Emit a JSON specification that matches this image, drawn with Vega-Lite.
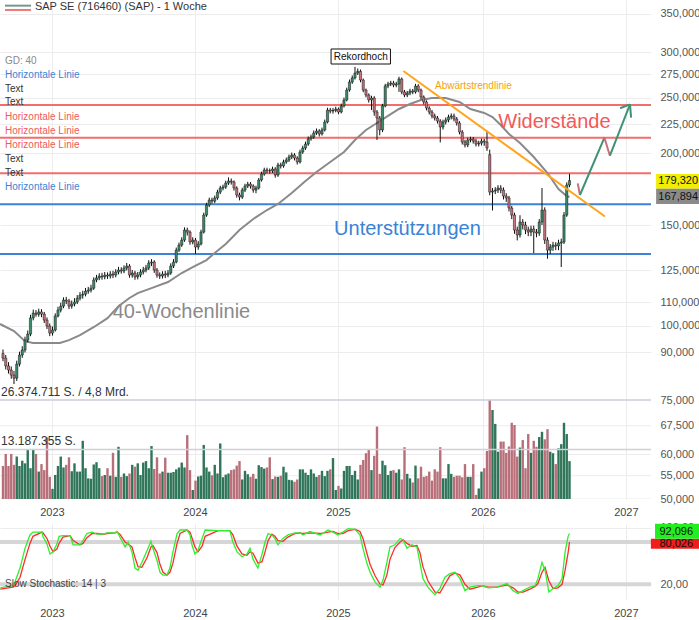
{
  "$schema": "https://vega.github.io/schema/vega-lite/v6.json",
  "padding": 0,
  "background": "white",
  "config": {
    "view": {"stroke": null},
    "font": "Liberation Sans",
    "axis": {"title": null, "domain": false, "ticks": false, "labelFont": "Liberation Sans", "labelFontSize": 11, "labelColor": "#555", "gridColor": "#ececec", "gridWidth": 1}
  },
  "datasets": {
    "px": [
      {"w":0,"o":89.5,"h":91.0,"l":86.8,"c":87.9,"v":8.8},
      {"w":1,"o":87.9,"h":89.0,"l":84.0,"c":85.2,"v":12.0},
      {"w":2,"o":85.2,"h":86.5,"l":82.6,"c":83.8,"v":8.8},
      {"w":3,"o":83.8,"h":85.0,"l":80.9,"c":82.1,"v":12.0},
      {"w":4,"o":82.1,"h":83.5,"l":79.2,"c":81.1,"v":9.1},
      {"w":5,"o":81.1,"h":87.0,"l":80.2,"c":85.8,"v":11.3},
      {"w":6,"o":85.8,"h":90.2,"l":85.0,"c":89.0,"v":8.8},
      {"w":7,"o":89.0,"h":92.2,"l":88.0,"c":90.8,"v":10.2},
      {"w":8,"o":90.8,"h":95.8,"l":89.9,"c":94.5,"v":9.5},
      {"w":9,"o":94.5,"h":98.2,"l":93.6,"c":96.8,"v":13.2},
      {"w":10,"o":96.8,"h":104.6,"l":96.0,"c":103.3,"v":8.2},
      {"w":11,"o":103.3,"h":106.8,"l":102.3,"c":105.3,"v":13.1},
      {"w":12,"o":105.3,"h":106.6,"l":103.8,"c":104.8,"v":12.0},
      {"w":13,"o":104.8,"h":107.2,"l":103.8,"c":105.8,"v":7.3},
      {"w":14,"o":105.8,"h":107.0,"l":103.6,"c":104.9,"v":9.3},
      {"w":15,"o":104.9,"h":105.8,"l":101.2,"c":102.4,"v":7.7},
      {"w":16,"o":102.4,"h":103.5,"l":98.8,"c":100.0,"v":16.4},
      {"w":17,"o":100.0,"h":101.0,"l":96.0,"c":97.2,"v":5.9},
      {"w":18,"o":97.2,"h":99.8,"l":96.2,"c":98.4,"v":2.7},
      {"w":19,"o":98.4,"h":105.2,"l":97.8,"c":104.1,"v":6.4},
      {"w":20,"o":104.1,"h":108.0,"l":103.5,"c":106.6,"v":8.8},
      {"w":21,"o":106.6,"h":109.8,"l":105.6,"c":108.3,"v":11.3},
      {"w":22,"o":108.3,"h":112.2,"l":107.4,"c":111.0,"v":8.4},
      {"w":23,"o":111.0,"h":112.4,"l":109.2,"c":110.5,"v":9.1},
      {"w":24,"o":110.5,"h":111.5,"l":107.0,"c":108.3,"v":11.1},
      {"w":25,"o":108.3,"h":110.8,"l":107.2,"c":109.2,"v":7.4},
      {"w":26,"o":109.2,"h":111.8,"l":108.2,"c":110.1,"v":9.5},
      {"w":27,"o":110.1,"h":113.2,"l":109.2,"c":111.8,"v":7.3},
      {"w":28,"o":111.8,"h":114.6,"l":110.8,"c":113.2,"v":7.3},
      {"w":29,"o":113.2,"h":115.2,"l":111.6,"c":113.6,"v":15.5},
      {"w":30,"o":113.6,"h":116.5,"l":112.6,"c":115.0,"v":8.2},
      {"w":31,"o":115.0,"h":117.0,"l":113.8,"c":115.5,"v":5.5},
      {"w":32,"o":115.5,"h":118.0,"l":114.4,"c":116.4,"v":5.4},
      {"w":33,"o":116.4,"h":121.6,"l":115.6,"c":120.3,"v":9.2},
      {"w":34,"o":120.3,"h":122.8,"l":119.2,"c":121.3,"v":9.8},
      {"w":35,"o":121.3,"h":123.6,"l":120.2,"c":122.2,"v":8.2},
      {"w":36,"o":122.2,"h":123.8,"l":120.4,"c":121.8,"v":6.1},
      {"w":37,"o":121.8,"h":124.2,"l":120.6,"c":122.7,"v":6.4},
      {"w":38,"o":122.7,"h":124.0,"l":120.8,"c":122.2,"v":8.2},
      {"w":39,"o":122.2,"h":124.6,"l":121.0,"c":123.2,"v":6.2},
      {"w":40,"o":123.2,"h":124.8,"l":121.2,"c":122.7,"v":12.3},
      {"w":41,"o":122.7,"h":125.6,"l":121.6,"c":124.2,"v":5.9},
      {"w":42,"o":124.2,"h":126.8,"l":123.0,"c":125.2,"v":13.9},
      {"w":43,"o":125.2,"h":126.6,"l":123.4,"c":124.7,"v":5.9},
      {"w":44,"o":124.7,"h":127.6,"l":123.6,"c":126.2,"v":6.8},
      {"w":45,"o":126.2,"h":128.8,"l":125.0,"c":127.2,"v":6.1},
      {"w":46,"o":127.2,"h":128.2,"l":121.4,"c":122.7,"v":6.8},
      {"w":47,"o":122.7,"h":125.2,"l":121.4,"c":123.7,"v":9.1},
      {"w":48,"o":123.7,"h":124.8,"l":120.4,"c":121.8,"v":8.6},
      {"w":49,"o":121.8,"h":124.2,"l":120.6,"c":122.7,"v":9.5},
      {"w":50,"o":122.7,"h":125.6,"l":121.6,"c":124.2,"v":6.4},
      {"w":51,"o":124.2,"h":126.8,"l":123.0,"c":125.2,"v":9.7},
      {"w":52,"o":125.2,"h":127.8,"l":124.0,"c":126.2,"v":10.1},
      {"w":53,"o":126.2,"h":130.2,"l":125.2,"c":128.8,"v":8.2},
      {"w":54,"o":128.8,"h":130.8,"l":127.2,"c":129.3,"v":14.1},
      {"w":55,"o":129.3,"h":130.2,"l":123.8,"c":125.2,"v":8.0},
      {"w":56,"o":125.2,"h":126.2,"l":121.4,"c":122.7,"v":11.1},
      {"w":57,"o":122.7,"h":124.0,"l":120.8,"c":122.2,"v":6.8},
      {"w":58,"o":122.2,"h":124.6,"l":121.0,"c":123.2,"v":7.3},
      {"w":59,"o":123.2,"h":124.8,"l":121.2,"c":122.7,"v":11.0},
      {"w":60,"o":122.7,"h":125.2,"l":121.6,"c":123.7,"v":7.0},
      {"w":61,"o":123.7,"h":128.6,"l":122.8,"c":127.2,"v":7.0},
      {"w":62,"o":127.2,"h":130.8,"l":126.2,"c":129.3,"v":7.2},
      {"w":63,"o":129.3,"h":137.0,"l":128.6,"c":135.6,"v":7.9},
      {"w":64,"o":135.6,"h":139.8,"l":134.6,"c":138.4,"v":8.4},
      {"w":65,"o":138.4,"h":142.8,"l":137.4,"c":141.2,"v":9.7},
      {"w":66,"o":141.2,"h":148.6,"l":140.2,"c":147.0,"v":8.4},
      {"w":67,"o":147.0,"h":148.4,"l":143.8,"c":145.8,"v":17.0},
      {"w":68,"o":145.8,"h":146.8,"l":138.6,"c":140.1,"v":7.7},
      {"w":69,"o":140.1,"h":142.8,"l":138.8,"c":141.2,"v":2.4},
      {"w":70,"o":141.2,"h":142.4,"l":133.6,"c":137.3,"v":4.9},
      {"w":71,"o":137.3,"h":140.6,"l":135.8,"c":139.0,"v":6.0},
      {"w":72,"o":139.0,"h":147.2,"l":138.2,"c":145.8,"v":6.2},
      {"w":73,"o":145.8,"h":157.6,"l":145.0,"c":156.1,"v":14.4},
      {"w":74,"o":156.1,"h":164.0,"l":155.0,"c":162.5,"v":8.4},
      {"w":75,"o":162.5,"h":167.4,"l":161.2,"c":165.8,"v":7.3},
      {"w":76,"o":165.8,"h":167.4,"l":163.4,"c":165.1,"v":6.3},
      {"w":77,"o":165.1,"h":168.8,"l":163.8,"c":167.2,"v":9.1},
      {"w":78,"o":167.2,"h":172.8,"l":166.0,"c":171.2,"v":6.8},
      {"w":79,"o":171.2,"h":175.6,"l":169.8,"c":174.0,"v":14.8},
      {"w":80,"o":174.0,"h":176.4,"l":172.4,"c":174.7,"v":5.8},
      {"w":81,"o":174.7,"h":179.2,"l":173.4,"c":177.5,"v":6.5},
      {"w":82,"o":177.5,"h":181.6,"l":176.2,"c":179.0,"v":6.8},
      {"w":83,"o":179.0,"h":180.8,"l":176.4,"c":178.3,"v":7.7},
      {"w":84,"o":178.3,"h":179.4,"l":172.2,"c":174.0,"v":7.9},
      {"w":85,"o":174.0,"h":175.2,"l":167.4,"c":169.2,"v":8.9},
      {"w":86,"o":169.2,"h":170.8,"l":165.6,"c":167.8,"v":10.1},
      {"w":87,"o":167.8,"h":174.2,"l":166.6,"c":172.6,"v":5.2},
      {"w":88,"o":172.6,"h":177.0,"l":171.2,"c":175.4,"v":7.5},
      {"w":89,"o":175.4,"h":178.4,"l":174.0,"c":176.8,"v":6.6},
      {"w":90,"o":176.8,"h":178.2,"l":173.6,"c":175.4,"v":5.9},
      {"w":91,"o":175.4,"h":176.6,"l":170.8,"c":172.6,"v":6.7},
      {"w":92,"o":172.6,"h":175.6,"l":170.4,"c":174.0,"v":5.4},
      {"w":93,"o":174.0,"h":181.2,"l":173.0,"c":179.7,"v":9.0},
      {"w":94,"o":179.7,"h":185.8,"l":178.6,"c":184.1,"v":8.5},
      {"w":95,"o":184.1,"h":188.8,"l":182.8,"c":187.1,"v":8.1},
      {"w":96,"o":187.1,"h":188.8,"l":184.6,"c":186.5,"v":8.4},
      {"w":97,"o":186.5,"h":188.2,"l":184.4,"c":186.3,"v":11.1},
      {"w":98,"o":186.3,"h":189.6,"l":184.8,"c":187.8,"v":5.3},
      {"w":99,"o":187.8,"h":189.2,"l":181.4,"c":183.3,"v":6.0},
      {"w":100,"o":183.3,"h":192.6,"l":182.0,"c":190.9,"v":5.9},
      {"w":101,"o":190.9,"h":192.6,"l":188.2,"c":190.1,"v":6.2},
      {"w":102,"o":190.1,"h":195.0,"l":188.8,"c":193.2,"v":8.6},
      {"w":103,"o":193.2,"h":196.6,"l":191.8,"c":194.7,"v":7.1},
      {"w":104,"o":194.7,"h":199.0,"l":193.2,"c":197.1,"v":5.1},
      {"w":105,"o":197.1,"h":200.6,"l":195.4,"c":198.7,"v":5.0},
      {"w":106,"o":198.7,"h":200.2,"l":194.4,"c":196.3,"v":4.6},
      {"w":107,"o":196.3,"h":197.6,"l":191.2,"c":193.2,"v":5.2},
      {"w":108,"o":193.2,"h":203.0,"l":192.0,"c":201.1,"v":7.9},
      {"w":109,"o":201.1,"h":206.2,"l":199.6,"c":204.3,"v":7.9},
      {"w":110,"o":204.3,"h":209.6,"l":202.8,"c":207.6,"v":7.0},
      {"w":111,"o":207.6,"h":214.0,"l":206.2,"c":212.0,"v":6.4},
      {"w":112,"o":212.0,"h":215.6,"l":210.4,"c":213.6,"v":7.9},
      {"w":113,"o":213.6,"h":219.2,"l":212.0,"c":217.0,"v":6.8},
      {"w":114,"o":217.0,"h":221.0,"l":215.4,"c":218.8,"v":5.9},
      {"w":115,"o":218.8,"h":220.4,"l":214.0,"c":216.2,"v":6.4},
      {"w":116,"o":216.2,"h":221.8,"l":214.8,"c":219.7,"v":7.5},
      {"w":117,"o":219.7,"h":229.0,"l":218.4,"c":226.8,"v":6.1},
      {"w":118,"o":226.8,"h":240.2,"l":225.6,"c":238.0,"v":7.5},
      {"w":119,"o":238.0,"h":240.0,"l":234.8,"c":237.0,"v":7.9},
      {"w":120,"o":237.0,"h":240.0,"l":234.6,"c":237.6,"v":10.9},
      {"w":121,"o":237.6,"h":241.2,"l":235.8,"c":238.9,"v":2.4},
      {"w":122,"o":238.9,"h":240.4,"l":234.0,"c":236.1,"v":3.5},
      {"w":123,"o":236.1,"h":244.2,"l":234.8,"c":241.9,"v":2.8},
      {"w":124,"o":241.9,"h":250.2,"l":240.4,"c":247.8,"v":7.5},
      {"w":125,"o":247.8,"h":260.4,"l":246.4,"c":257.9,"v":8.8},
      {"w":126,"o":257.9,"h":269.0,"l":256.2,"c":266.3,"v":8.8},
      {"w":127,"o":266.3,"h":273.4,"l":264.4,"c":270.7,"v":6.4},
      {"w":128,"o":270.7,"h":283.0,"l":269.0,"c":276.1,"v":7.5},
      {"w":129,"o":276.1,"h":281.2,"l":274.0,"c":278.0,"v":5.2},
      {"w":130,"o":278.0,"h":280.0,"l":266.0,"c":268.5,"v":9.1},
      {"w":131,"o":268.5,"h":270.0,"l":255.6,"c":257.9,"v":10.4},
      {"w":132,"o":257.9,"h":259.4,"l":250.4,"c":252.8,"v":12.2},
      {"w":133,"o":252.8,"h":254.4,"l":245.2,"c":247.8,"v":13.2},
      {"w":134,"o":247.8,"h":252.0,"l":238.0,"c":249.8,"v":7.7},
      {"w":135,"o":249.8,"h":251.6,"l":232.6,"c":236.1,"v":11.5},
      {"w":136,"o":236.1,"h":238.0,"l":211.0,"c":230.5,"v":19.3},
      {"w":137,"o":230.5,"h":232.4,"l":215.0,"c":219.7,"v":6.7},
      {"w":138,"o":219.7,"h":244.0,"l":217.8,"c":241.9,"v":10.2},
      {"w":139,"o":241.9,"h":264.4,"l":240.6,"c":262.1,"v":9.0},
      {"w":140,"o":262.1,"h":266.6,"l":259.8,"c":264.2,"v":6.4},
      {"w":141,"o":264.2,"h":267.6,"l":262.0,"c":265.2,"v":7.5},
      {"w":142,"o":265.2,"h":267.6,"l":260.8,"c":263.1,"v":7.7},
      {"w":143,"o":263.1,"h":266.6,"l":260.8,"c":264.2,"v":7.0},
      {"w":144,"o":264.2,"h":272.0,"l":256.0,"c":269.6,"v":7.9},
      {"w":145,"o":269.6,"h":271.2,"l":253.6,"c":255.9,"v":5.2},
      {"w":146,"o":255.9,"h":258.0,"l":250.6,"c":252.8,"v":13.8},
      {"w":147,"o":252.8,"h":257.0,"l":250.6,"c":254.8,"v":6.7},
      {"w":148,"o":254.8,"h":259.2,"l":252.6,"c":256.9,"v":5.5},
      {"w":149,"o":256.9,"h":259.0,"l":253.6,"c":255.9,"v":4.4},
      {"w":150,"o":255.9,"h":264.4,"l":254.2,"c":262.1,"v":8.9},
      {"w":151,"o":262.1,"h":264.0,"l":255.6,"c":257.9,"v":5.5},
      {"w":152,"o":257.9,"h":259.4,"l":248.4,"c":250.8,"v":8.6},
      {"w":153,"o":250.8,"h":252.4,"l":243.4,"c":245.8,"v":5.9},
      {"w":154,"o":245.8,"h":247.4,"l":237.6,"c":239.9,"v":6.1},
      {"w":155,"o":239.9,"h":241.6,"l":233.8,"c":236.1,"v":7.3},
      {"w":156,"o":236.1,"h":238.0,"l":230.2,"c":232.4,"v":4.9},
      {"w":157,"o":232.4,"h":234.6,"l":228.2,"c":230.5,"v":7.9},
      {"w":158,"o":230.5,"h":232.4,"l":225.4,"c":227.7,"v":7.3},
      {"w":159,"o":227.7,"h":229.4,"l":209.0,"c":222.3,"v":13.8},
      {"w":160,"o":222.3,"h":229.0,"l":220.0,"c":226.8,"v":5.5},
      {"w":161,"o":226.8,"h":231.0,"l":224.6,"c":228.7,"v":5.5},
      {"w":162,"o":228.7,"h":233.6,"l":226.6,"c":231.4,"v":9.3},
      {"w":163,"o":231.4,"h":234.8,"l":229.2,"c":232.4,"v":6.7},
      {"w":164,"o":232.4,"h":234.6,"l":227.4,"c":229.6,"v":5.9},
      {"w":165,"o":229.6,"h":231.4,"l":223.6,"c":225.9,"v":6.2},
      {"w":166,"o":225.9,"h":227.6,"l":215.8,"c":217.9,"v":6.2},
      {"w":167,"o":217.9,"h":219.6,"l":207.2,"c":209.3,"v":5.8},
      {"w":168,"o":209.3,"h":211.2,"l":204.8,"c":206.8,"v":9.3},
      {"w":169,"o":206.8,"h":213.0,"l":205.0,"c":211.0,"v":5.9},
      {"w":170,"o":211.0,"h":213.8,"l":209.0,"c":211.8,"v":5.9},
      {"w":171,"o":211.8,"h":213.6,"l":208.0,"c":210.1,"v":9.3},
      {"w":172,"o":210.1,"h":212.0,"l":205.6,"c":207.6,"v":1.1},
      {"w":173,"o":207.6,"h":210.4,"l":205.6,"c":208.4,"v":2.8},
      {"w":174,"o":208.4,"h":212.2,"l":206.4,"c":210.1,"v":7.3},
      {"w":175,"o":210.1,"h":212.0,"l":206.2,"c":209.3,"v":8.2},
      {"w":176,"o":209.3,"h":219.0,"l":202.0,"c":204.3,"v":12.8},
      {"w":177,"o":199.0,"h":203.0,"l":169.0,"c":171.2,"v":26.4},
      {"w":178,"o":171.2,"h":174.0,"l":159.0,"c":171.9,"v":23.7},
      {"w":179,"o":171.9,"h":174.6,"l":169.8,"c":172.6,"v":20.0},
      {"w":180,"o":172.6,"h":176.0,"l":170.6,"c":174.0,"v":12.6},
      {"w":181,"o":174.0,"h":176.0,"l":170.4,"c":172.6,"v":15.3},
      {"w":182,"o":172.6,"h":174.4,"l":166.2,"c":168.5,"v":15.3},
      {"w":183,"o":168.5,"h":170.4,"l":164.6,"c":167.2,"v":12.3},
      {"w":184,"o":167.2,"h":168.6,"l":158.4,"c":160.6,"v":14.0},
      {"w":185,"o":160.6,"h":162.0,"l":153.6,"c":156.1,"v":20.3},
      {"w":186,"o":156.1,"h":157.6,"l":144.8,"c":147.0,"v":19.7},
      {"w":187,"o":147.0,"h":149.0,"l":141.0,"c":144.1,"v":11.3},
      {"w":188,"o":144.1,"h":156.0,"l":142.6,"c":151.8,"v":13.7},
      {"w":189,"o":151.8,"h":153.6,"l":147.4,"c":150.0,"v":15.7},
      {"w":190,"o":150.0,"h":152.0,"l":144.6,"c":147.0,"v":8.2},
      {"w":191,"o":147.0,"h":149.0,"l":143.4,"c":145.8,"v":17.3},
      {"w":192,"o":145.8,"h":149.6,"l":143.4,"c":147.6,"v":12.3},
      {"w":193,"o":147.6,"h":149.6,"l":134.0,"c":145.8,"v":15.5},
      {"w":194,"o":145.8,"h":147.6,"l":142.8,"c":145.2,"v":13.9},
      {"w":195,"o":145.2,"h":153.6,"l":143.6,"c":151.8,"v":16.5},
      {"w":196,"o":151.8,"h":174.0,"l":150.0,"c":159.3,"v":17.9},
      {"w":197,"o":159.3,"h":161.0,"l":139.0,"c":141.2,"v":15.9},
      {"w":198,"o":141.2,"h":142.8,"l":131.0,"c":135.6,"v":18.6},
      {"w":199,"o":135.6,"h":139.0,"l":133.6,"c":137.3,"v":12.6},
      {"w":200,"o":137.3,"h":140.2,"l":135.2,"c":138.4,"v":12.2},
      {"w":201,"o":138.4,"h":140.0,"l":135.6,"c":137.9,"v":9.3},
      {"w":202,"o":137.9,"h":141.4,"l":135.6,"c":139.5,"v":13.5},
      {"w":203,"o":139.5,"h":142.0,"l":126.7,"c":140.1,"v":14.6},
      {"w":204,"o":140.1,"h":158.0,"l":139.0,"c":156.1,"v":20.3},
      {"w":205,"o":156.1,"h":178.0,"l":155.0,"c":176.1,"v":17.3},
      {"w":206,"o":176.1,"h":184.3,"l":174.6,"c":179.32,"v":10.1}
    ],
    "ma": [
      {"w":-1.09,"p":100.8},{"w":4,"p":98.0},{"w":8,"p":94.1},{"w":10.9,"p":93.4},{"w":20.7,"p":93.4},
      {"w":24,"p":94.5},{"w":28,"p":96.4},{"w":33.1,"p":99.6},{"w":38,"p":103.2},{"w":42,"p":108.3},
      {"w":46,"p":111.9},{"w":49,"p":114.1},{"w":54,"p":116.4},{"w":60,"p":119.3},{"w":65,"p":123.7},
      {"w":69,"p":126.7},{"w":74,"p":130.3},{"w":77,"p":134.1},{"w":81,"p":139.0},{"w":86,"p":147.0},
      {"w":91,"p":153.7},{"w":96,"p":159.3},{"w":100,"p":163.2},{"w":105,"p":170.6},{"w":110,"p":179.0},
      {"w":114,"p":185.6},{"w":119,"p":193.2},{"w":124,"p":201.1},{"w":128,"p":211.0},{"w":132,"p":219.7},
      {"w":136,"p":225.9},{"w":140,"p":232.4},{"w":144,"p":239.0},{"w":148,"p":243.8},{"w":152,"p":247.8},
      {"w":156,"p":249.8},{"w":161,"p":249.8},{"w":166,"p":245.8},{"w":170,"p":239.0},{"w":175,"p":235.2},
      {"w":178,"p":231.4},{"w":181,"p":224.1},{"w":184,"p":216.2},{"w":188,"p":208.5},{"w":193,"p":197.1},
      {"w":198,"p":184.8},{"w":202,"p":173.3},{"w":205,"p":168.5},{"w":206,"p":167.894}
    ],
    "st": [
      {"w":-1,"k":15,"d":13},{"w":3.6,"k":18,"d":16},{"w":4.4,"k":24,"d":18},{"w":6.2,"k":43,"d":30},
      {"w":8,"k":71,"d":55},{"w":9.8,"k":90,"d":78},{"w":10.9,"k":94,"d":88},{"w":14.2,"k":94,"d":94},
      {"w":14.5,"k":88,"d":93},{"w":16,"k":77,"d":85},{"w":17.1,"k":63,"d":74},{"w":18.2,"k":66,"d":66},
      {"w":19.6,"k":77,"d":70},{"w":20.4,"k":88,"d":78},{"w":21.8,"k":89,"d":87},{"w":24.4,"k":89,"d":89},
      {"w":25.5,"k":76,"d":82},{"w":28,"k":76,"d":76},{"w":29.1,"k":82,"d":78},{"w":30.5,"k":92,"d":86},
      {"w":32.4,"k":94,"d":92},{"w":34.2,"k":91,"d":92},{"w":36.4,"k":91,"d":91},{"w":37.8,"k":93,"d":92},
      {"w":40.7,"k":93,"d":93},{"w":41.5,"k":95,"d":94},{"w":42.5,"k":87,"d":91},{"w":44.4,"k":73,"d":80},
      {"w":45.5,"k":80,"d":77},{"w":46.9,"k":66,"d":73},{"w":48,"k":43,"d":58},{"w":49.1,"k":40,"d":45},
      {"w":50.5,"k":51,"d":44},{"w":52.4,"k":68,"d":58},{"w":53.8,"k":81,"d":73},{"w":54.5,"k":71,"d":75},
      {"w":56,"k":54,"d":65},{"w":57.1,"k":37,"d":48},{"w":58.2,"k":33,"d":37},{"w":59.6,"k":33,"d":33},
      {"w":60.7,"k":43,"d":37},{"w":61.8,"k":66,"d":50},{"w":63.3,"k":92,"d":78},{"w":64.4,"k":97,"d":92},
      {"w":66.9,"k":97,"d":97},{"w":68,"k":90,"d":94},{"w":68.7,"k":76,"d":86},{"w":69.8,"k":63,"d":73},
      {"w":70.9,"k":68,"d":66},{"w":72.4,"k":85,"d":74},{"w":73.5,"k":97,"d":88},{"w":78.2,"k":96,"d":96},
      {"w":82.5,"k":96,"d":96},{"w":83.6,"k":80,"d":90},{"w":85.1,"k":66,"d":74},{"w":86.9,"k":59,"d":63},
      {"w":88.7,"k":63,"d":61},{"w":89.8,"k":71,"d":66},{"w":90.9,"k":56,"d":64},{"w":92.7,"k":43,"d":50},
      {"w":94.2,"k":63,"d":52},{"w":95.3,"k":80,"d":66},{"w":96.4,"k":92,"d":82},{"w":97.8,"k":90,"d":91},
      {"w":98.9,"k":85,"d":88},{"w":100,"k":76,"d":82},{"w":101.8,"k":85,"d":81},{"w":103.6,"k":90,"d":87},
      {"w":106.2,"k":93,"d":92},{"w":108,"k":93,"d":93},{"w":109.1,"k":90,"d":92},{"w":111.6,"k":95,"d":93},
      {"w":115.3,"k":90,"d":92},{"w":118.2,"k":97,"d":94},{"w":120,"k":94,"d":95},{"w":121.8,"k":90,"d":92},
      {"w":123.6,"k":94,"d":92},{"w":125.5,"k":99,"d":96},{"w":128,"k":98,"d":98},{"w":129.8,"k":90,"d":95},
      {"w":130.9,"k":71,"d":85},{"w":132.4,"k":49,"d":63},{"w":133.5,"k":37,"d":48},{"w":135.3,"k":23,"d":32},
      {"w":137.1,"k":16,"d":20},{"w":138.2,"k":26,"d":19},{"w":139.6,"k":51,"d":33},{"w":140.7,"k":73,"d":55},
      {"w":142.5,"k":76,"d":72},{"w":144.4,"k":85,"d":80},{"w":145.5,"k":83,"d":83},{"w":146.9,"k":71,"d":78},
      {"w":148.7,"k":76,"d":74},{"w":150.5,"k":73,"d":75},{"w":151.6,"k":51,"d":65},{"w":152.7,"k":28,"d":45},
      {"w":154.5,"k":16,"d":25},{"w":157.1,"k":5,"d":9},{"w":158.9,"k":14,"d":8},{"w":160.7,"k":30,"d":20},
      {"w":162.5,"k":35,"d":32},{"w":164.4,"k":37,"d":36},{"w":166.2,"k":28,"d":33},{"w":168,"k":11,"d":20},
      {"w":169.8,"k":16,"d":13},{"w":172.7,"k":18,"d":16},{"w":174.2,"k":18,"d":18},{"w":176.4,"k":15,"d":16},
      {"w":179.6,"k":16,"d":16},{"w":183.3,"k":21,"d":19},{"w":185.5,"k":11,"d":15},{"w":187.3,"k":7,"d":9},
      {"w":189.1,"k":11,"d":9},{"w":191.6,"k":16,"d":13},{"w":193.5,"k":18,"d":17},{"w":194.5,"k":28,"d":21},
      {"w":196,"k":51,"d":37},{"w":197.1,"k":40,"d":44},{"w":198.5,"k":9,"d":25},{"w":200,"k":14,"d":14},
      {"w":201.8,"k":18,"d":15},{"w":203.3,"k":28,"d":20},{"w":204.4,"k":66,"d":40},{"w":205.5,"k":88,"d":65},
      {"w":206,"k":92.096,"d":80.026}
    ],
    "hl": [
      {"p":242.9,"k":"r"},{"p":213.0,"k":"r"},{"p":184.6,"k":"r"},{"p":163.0,"k":"b"},{"p":133.5,"k":"b"}
    ],
    "trend": [{"w":145.6,"p":278.4},{"w":218.9,"p":155.2}],
    "arrow": [
      {"s":1,"k":"r","w":209.0,"p":177.3},{"s":1,"k":"r","w":209.8,"p":169.2},
      {"s":2,"k":"g","w":209.8,"p":169.2},{"s":2,"k":"g","w":218.7,"p":213.0},
      {"s":3,"k":"r","w":218.7,"p":213.0},{"s":3,"k":"r","w":220.7,"p":198.1},
      {"s":4,"k":"g","w":220.7,"p":198.1},{"s":4,"k":"g","w":228.0,"p":243.5},
      {"s":5,"k":"g","w":224.4,"p":239.7},{"s":5,"k":"g","w":228.0,"p":243.5},
      {"s":6,"k":"g","w":228.0,"p":243.5},{"s":6,"k":"g","w":228.4,"p":230.8}
    ],
    "icon": [{"a":0.73,"b":10.2,"p":361.9,"k":"g"},{"a":0.73,"b":10.2,"p":355.7,"k":"r"}],
    "notes": [
      {"w":0.73,"p":289.8,"t":"GD: 40","k":"gd"},
      {"w":0.73,"p":274.3,"t":"Horizontale Linie","k":"b"},
      {"w":0.73,"p":259.3,"t":"Text","k":"t"},
      {"w":0.73,"p":245.5,"t":"Text","k":"t"},
      {"w":0.73,"p":231.7,"t":"Horizontale Linie","k":"r"},
      {"w":0.73,"p":219.0,"t":"Horizontale Linie","k":"r"},
      {"w":0.73,"p":207.1,"t":"Horizontale Linie","k":"r"},
      {"w":0.73,"p":195.8,"t":"Text","k":"t"},
      {"w":0.73,"p":185.1,"t":"Text","k":"t"},
      {"w":0.73,"p":174.9,"t":"Horizontale Linie","k":"b"}
    ],
    "big": [
      {"w":180.1,"p":221.5,"t":"Widerstände","k":"r"},
      {"w":120.4,"p":144.1,"t":"Unterstützungen","k":"b"},
      {"w":39.9,"p":103.1,"t":"40-Wochenlinie","k":"g"}
    ],
    "pbox": [
      {"k":"y","a":237.5,"b":254,"p1":184.1,"p2":173.5,"tx":238.3,"val":179.32,"t":"179,320"},
      {"k":"g","a":237.5,"b":254,"p1":173.5,"p2":163.2,"tx":238.3,"val":167.894,"t":"167,894"}
    ],
    "vl": [
      {"w":-0.7,"v":26.374711,"t":"26.374.711 S. / 4,8 Mrd."},
      {"w":-0.7,"v":13.187355,"t":"13.187.355 S."}
    ],
    "sbox": [
      {"k":"r","a":235.6,"b":254,"s1":84.7,"s2":70.5,"tx":238.7,"val":76.5,"t":"80,026"},
      {"k":"g","a":237.1,"b":254,"s1":106,"s2":84.7,"tx":238.7,"val":94.2,"t":"92,096"}
    ]
  },
  "spacing": 4,
  "vconcat": [
    {
      "spacing": 0,
      "bounds": "flush",
      "vconcat": [
        {
          "width": 651,
          "height": 395,
          "resolve": {"scale": {"color": "independent"}},
          "layer": [
            {
              "data": {"name": "hl"},
              "mark": {"type": "rule", "strokeWidth": 2, "clip": true},
              "encoding": {
                "y": {"field": "p", "type": "quantitative",
                  "scale": {"type": "log", "domain": [75.8, 370.2], "nice": false},
                  "axis": {"orient": "right", "values": [90, 100, 110, 125, 150, 200, 225, 250, 275, 300, 350], "labelExpr": "replace(format(datum.value, '.3f'), '.', ',')", "labelPadding": 9, "grid": true}},
                "color": {"field": "k", "type": "nominal", "scale": {"domain": ["r", "b"], "range": ["#f26d6d", "#3a83d6"]}, "legend": null}
              }
            },
            {
              "data": {"name": "ma"},
              "mark": {"type": "line", "color": "#8a8a8a", "strokeWidth": 2, "clip": true},
              "encoding": {
                "x": {"field": "w", "type": "quantitative",
                  "scale": {"domain": [-1.09, 235.64], "nice": false, "zero": false, "padding": 0},
                  "axis": {"values": [17.8, 69.8, 121.8, 174.5, 226.5], "labels": false, "grid": true}},
                "y": {"field": "p", "type": "quantitative"}
              }
            },
            {
              "data": {"name": "px"},
              "mark": {"type": "rule", "color": "#111", "strokeWidth": 1},
              "encoding": {
                "x": {"field": "w", "type": "quantitative"},
                "y": {"field": "l", "type": "quantitative"},
                "y2": {"field": "h"}
              }
            },
            {
              "data": {"name": "px"},
              "mark": {"type": "bar", "size": 2.2, "stroke": "#111", "strokeWidth": 0.5},
              "encoding": {
                "x": {"field": "w", "type": "quantitative"},
                "y": {"field": "o", "type": "quantitative"},
                "y2": {"field": "c"},
                "color": {"condition": {"test": "datum.c >= datum.o", "value": "#3b8f6c"}, "value": "#c9737d"}
              }
            },
            {
              "data": {"name": "trend"},
              "mark": {"type": "line", "color": "#ffa41b", "strokeWidth": 2},
              "encoding": {
                "x": {"field": "w", "type": "quantitative"},
                "y": {"field": "p", "type": "quantitative"}
              }
            },
            {
              "data": {"name": "arrow"},
              "mark": {"type": "line", "strokeWidth": 2},
              "encoding": {
                "x": {"field": "w", "type": "quantitative"},
                "y": {"field": "p", "type": "quantitative"},
                "detail": {"field": "s", "type": "nominal"},
                "color": {"field": "k", "type": "nominal", "scale": {"domain": ["r", "g"], "range": ["#c6707c", "#3f9274"]}, "legend": null}
              }
            },
            {
              "data": {"values": [{"a": 119.3, "b": 140.9, "p1": 304.1, "p2": 286.3}]},
              "mark": {"type": "rect", "fill": "white", "stroke": "#111", "strokeWidth": 1},
              "encoding": {
                "x": {"field": "a", "type": "quantitative"},
                "x2": {"field": "b"},
                "y": {"field": "p1", "type": "quantitative"},
                "y2": {"field": "p2"}
              }
            },
            {
              "data": {"values": [{"w": 130.1, "p": 294.1, "t": "Rekordhoch"}]},
              "mark": {"type": "text", "align": "center", "baseline": "middle", "fontSize": 10, "color": "#111"},
              "encoding": {
                "x": {"field": "w", "type": "quantitative"},
                "y": {"field": "p", "type": "quantitative"},
                "text": {"field": "t"}
              }
            },
            {
              "data": {"values": [{"w": 157.1, "p": 261.8, "t": "Abwärtstrendlinie"}]},
              "mark": {"type": "text", "align": "left", "baseline": "middle", "fontSize": 10, "color": "#f5a20a"},
              "encoding": {
                "x": {"field": "w", "type": "quantitative"},
                "y": {"field": "p", "type": "quantitative"},
                "text": {"field": "t"}
              }
            },
            {
              "data": {"values": [{"w": 11.6, "p": 359.3, "t": "SAP SE (716460) (SAP) - 1 Woche"}]},
              "mark": {"type": "text", "align": "left", "baseline": "middle", "fontSize": 11, "color": "#333"},
              "encoding": {
                "x": {"field": "w", "type": "quantitative"},
                "y": {"field": "p", "type": "quantitative"},
                "text": {"field": "t"}
              }
            },
            {
              "data": {"name": "icon"},
              "mark": {"type": "rule", "strokeWidth": 2},
              "encoding": {
                "x": {"field": "a", "type": "quantitative"},
                "x2": {"field": "b"},
                "y": {"field": "p", "type": "quantitative"},
                "color": {"field": "k", "type": "nominal", "scale": {"domain": ["g", "r"], "range": ["#6f9a8e", "#ee7777"]}, "legend": null}
              }
            },
            {
              "data": {"name": "notes"},
              "mark": {"type": "text", "align": "left", "baseline": "middle", "fontSize": 10},
              "encoding": {
                "x": {"field": "w", "type": "quantitative"},
                "y": {"field": "p", "type": "quantitative"},
                "text": {"field": "t"},
                "color": {"field": "k", "type": "nominal", "scale": {"domain": ["gd", "b", "r", "t"], "range": ["#8a8a8a", "#3a83d6", "#f05a5a", "#333333"]}, "legend": null}
              }
            },
            {
              "data": {"name": "big"},
              "mark": {"type": "text", "align": "left", "baseline": "alphabetic", "fontSize": 20},
              "encoding": {
                "x": {"field": "w", "type": "quantitative"},
                "y": {"field": "p", "type": "quantitative"},
                "text": {"field": "t"},
                "color": {"field": "k", "type": "nominal", "scale": {"domain": ["r", "b", "g"], "range": ["#f05a5a", "#3a83d6", "#8a8a8a"]}, "legend": null}
              }
            },
            {
              "data": {"name": "pbox"},
              "mark": {"type": "rect"},
              "encoding": {
                "x": {"field": "a", "type": "quantitative"},
                "x2": {"field": "b"},
                "y": {"field": "p1", "type": "quantitative"},
                "y2": {"field": "p2"},
                "color": {"field": "k", "type": "nominal", "scale": {"domain": ["y", "g"], "range": ["#f2ee00", "#8a8a8a"]}, "legend": null}
              }
            },
            {
              "data": {"name": "pbox"},
              "mark": {"type": "text", "align": "left", "baseline": "middle", "fontSize": 11, "color": "#111"},
              "encoding": {
                "x": {"field": "tx", "type": "quantitative"},
                "y": {"field": "val", "type": "quantitative"},
                "text": {"field": "t"}
              }
            }
          ]
        },
        {
          "width": 651,
          "height": 104,
          "resolve": {"scale": {"y": "independent"}},
          "layer": [
            {
              "data": {"values": [{"g": 50000}, {"g": 55000}, {"g": 60000}, {"g": 67500}, {"g": 75000}]},
              "mark": {"type": "rule", "color": "#ececec", "clip": true},
              "encoding": {
                "y": {"field": "g", "type": "quantitative",
                  "scale": {"type": "log", "domain": [50000, 76557], "nice": false},
                  "axis": {"orient": "right", "values": [50000, 55000, 60000, 67500, 75000], "format": ",", "labelPadding": 9, "grid": false}}
              }
            },
            {
              "layer": [
                {
                  "data": {"name": "px"},
                  "mark": {"type": "bar", "size": 2.4},
                  "encoding": {
                    "x": {"field": "w", "type": "quantitative",
                      "scale": {"domain": [-1.09, 235.64], "nice": false, "zero": false, "padding": 0},
                      "axis": {"values": [17.8, 69.8, 121.8, 174.5, 226.5], "labelExpr": "datum.value < 40 ? '2023' : datum.value < 100 ? '2024' : datum.value < 150 ? '2025' : datum.value < 200 ? '2026' : '2027'", "grid": true, "labelPadding": 7, "labelColor": "#444"}},
                    "y": {"field": "v", "type": "quantitative", "scale": {"domain": [0, 27.7], "nice": false}, "axis": null},
                    "color": {"condition": {"test": "datum.c >= datum.o", "value": "#2f7559"}, "value": "#b86f79"}
                  }
                },
                {
                  "data": {"name": "vl"},
                  "mark": {"type": "rule", "color": "#cfcfdc", "strokeWidth": 1.5, "clip": true},
                  "encoding": {
                    "y": {"field": "v", "type": "quantitative", "axis": null}
                  }
                },
                {
                  "data": {"name": "vl"},
                  "mark": {"type": "text", "align": "left", "baseline": "alphabetic", "dy": -4, "fontSize": 12, "color": "#333"},
                  "encoding": {
                    "x": {"field": "w", "type": "quantitative"},
                    "y": {"field": "v", "type": "quantitative", "axis": null},
                    "text": {"field": "t"}
                  }
                }
              ]
            }
          ]
        }
      ]
    },
    {
      "width": 651,
      "height": 76,
      "layer": [
        {
          "data": {"values": [{"s": 20}, {"s": 80}]},
          "mark": {"type": "rule", "color": "#d6d6d6", "strokeWidth": 4, "clip": true},
          "encoding": {
            "y": {"field": "s", "type": "quantitative",
              "scale": {"domain": [-2.3, 105.5], "nice": false, "zero": false},
              "axis": {"orient": "right", "values": [20, 50, 80, 100], "labelExpr": "replace(format(datum.value, '.2f'), '.', ',')", "labelPadding": 9, "grid": true}}
          }
        },
        {
          "data": {"name": "st"},
          "mark": {"type": "line", "color": "#ff2a2a", "strokeWidth": 1.3, "clip": true},
          "encoding": {
            "x": {"field": "w", "type": "quantitative",
              "scale": {"domain": [-1.09, 235.64], "nice": false, "zero": false, "padding": 0},
              "axis": {"values": [17.8, 69.8, 121.8, 174.5, 226.5], "labelExpr": "datum.value < 40 ? '2023' : datum.value < 100 ? '2024' : datum.value < 150 ? '2025' : datum.value < 200 ? '2026' : '2027'", "grid": true, "labelPadding": 7, "labelColor": "#444"}},
            "y": {"field": "d", "type": "quantitative"}
          }
        },
        {
          "data": {"name": "st"},
          "mark": {"type": "line", "color": "#2ef02e", "strokeWidth": 1.3, "clip": true},
          "encoding": {
            "x": {"field": "w", "type": "quantitative"},
            "y": {"field": "k", "type": "quantitative"}
          }
        },
        {
          "data": {"values": [{"w": 0.73, "s": 20.5, "t": "Slow Stochastic: 14 | 3"}]},
          "mark": {"type": "text", "align": "left", "baseline": "middle", "fontSize": 10, "color": "#444"},
          "encoding": {
            "x": {"field": "w", "type": "quantitative"},
            "y": {"field": "s", "type": "quantitative"},
            "text": {"field": "t"}
          }
        },
        {
          "data": {"name": "sbox"},
          "transform": [{"filter": "datum.k == 'r'"}],
          "mark": {"type": "rect", "color": "#f21c1c"},
          "encoding": {
            "x": {"field": "a", "type": "quantitative"},
            "x2": {"field": "b"},
            "y": {"field": "s1", "type": "quantitative"},
            "y2": {"field": "s2"}
          }
        },
        {
          "data": {"name": "sbox"},
          "transform": [{"filter": "datum.k == 'r'"}],
          "mark": {"type": "text", "align": "left", "baseline": "middle", "fontSize": 11, "color": "#111"},
          "encoding": {
            "x": {"field": "tx", "type": "quantitative"},
            "y": {"field": "val", "type": "quantitative"},
            "text": {"field": "t"}
          }
        },
        {
          "data": {"name": "sbox"},
          "transform": [{"filter": "datum.k == 'g'"}],
          "mark": {"type": "rect", "color": "#22ee22"},
          "encoding": {
            "x": {"field": "a", "type": "quantitative"},
            "x2": {"field": "b"},
            "y": {"field": "s1", "type": "quantitative"},
            "y2": {"field": "s2"}
          }
        },
        {
          "data": {"name": "sbox"},
          "transform": [{"filter": "datum.k == 'g'"}],
          "mark": {"type": "text", "align": "left", "baseline": "middle", "fontSize": 11, "color": "#111"},
          "encoding": {
            "x": {"field": "tx", "type": "quantitative"},
            "y": {"field": "val", "type": "quantitative"},
            "text": {"field": "t"}
          }
        }
      ]
    }
  ]
}
